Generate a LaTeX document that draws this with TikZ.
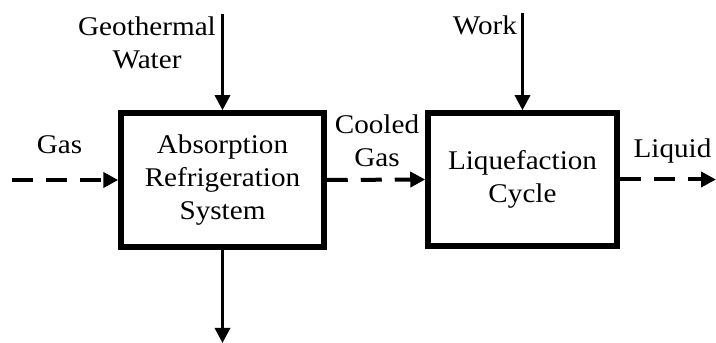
\documentclass[tikz,border=0pt]{standalone}
\usepackage{fontspec}
\setmainfont{Liberation Serif}[FakeStretch=1.08]
\usepackage{tikz}
\usetikzlibrary{
  arrows.meta,
  positioning
}
\tikzset{>={Triangle[length=15pt,width=15pt]}}
\tikzset{
  unit/.style={draw,line width=5.5pt,inner sep=0pt,align=center},
  flow/.style={->,line width=3pt},
  gasflow/.style={->,line width=4pt,dash pattern=on 21pt off 13pt},
  lbl/.style={align=center,inner sep=0pt}
}

\begin{document}
\begin{tikzpicture}[x=1pt,y=1pt,font=\fontsize{27}{33}\selectfont]
\useasboundingbox (0,0) rectangle (716,343);
\node[unit,minimum width=203pt,minimum height=134pt] (ars) at (222.5,163) {Absorption\\Refrigeration\\System};
\node[unit,minimum width=189pt,minimum height=133pt] (liq) at (522.5,163.5) {Liquefaction\\Cycle};
\coordinate (geoin) at (ars.north |- 0,329);
\coordinate (workin) at (liq.north |- 0,330);
\coordinate (geoout) at (ars.south |- 0,0);
\coordinate (gasin) at (12,163);
\coordinate (liqout) at (716,163.5);
% streams
\draw[flow] (geoin) -- (ars.north);
\draw[flow] (workin) -- (liq.north);
\draw[flow] (ars.south) -- (geoout);
\draw[gasflow] (gasin) -- (ars.west);
\draw[gasflow] (ars.east) -- (liq.west);
\draw[gasflow] (liq.east) -- (liqout);
% labels
\node[lbl] (geolbl) at (147,300) {Geothermal\\Water};
\node[lbl,anchor=base] (worklbl) at (485,308) {Work};
\node[lbl,anchor=base] (gaslbl) at (59.5,189) {Gas};
\node[lbl] (coollbl) at (377,202) {Cooled\\Gas};
\node[lbl,anchor=base] (liqlbl) at (672.5,185) {Liquid};
\end{tikzpicture}
\end{document}
